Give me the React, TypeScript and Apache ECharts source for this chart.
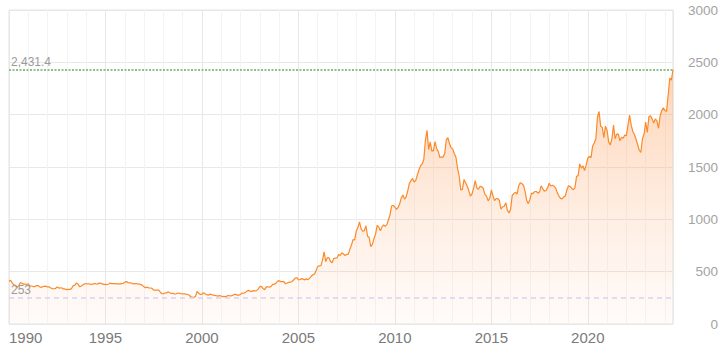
import React, { useEffect, useRef } from "react";
import * as echarts from "echarts";

// Monthly gold price (USD/oz)
const gold1990s = [
  410, 417, 393, 374, 369, 352, 362, 395, 389, 381, 382, 378,
  384, 364, 363, 358, 357, 367, 368, 356, 349, 358, 360, 361,
  354, 354, 344, 338, 337, 341, 353, 343, 345, 344, 335, 334,
  329, 330, 330, 342, 367, 372, 392, 379, 355, 364, 374, 383,
  387, 382, 384, 377, 381, 386, 385, 380, 391, 389, 384, 379,
  379, 377, 382, 391, 385, 387, 386, 383, 383, 383, 386, 387,
  400, 405, 396, 393, 392, 385, 383, 387, 383, 381, 378, 369,
  355, 347, 352, 344, 344, 341, 324, 324, 323, 325, 306, 289,
  289, 297, 296, 308, 299, 292, 293, 284, 289, 296, 294, 291,
  287, 287, 286, 282, 277, 261, 256, 253, 265, 311, 293, 283,
];
const gold2000s = [
  284, 300, 286, 280, 275, 286, 282, 275, 273, 270, 266, 272,
  266, 262, 263, 261, 272, 270, 268, 273, 283, 283, 276, 276,
  282, 296, 294, 302, 314, 321, 314, 310, 319, 317, 319, 333,
  357, 359, 340, 328, 355, 356, 351, 360, 379, 379, 389, 407,
  414, 405, 406, 404, 384, 392, 398, 400, 406, 420, 439, 442,
  424, 423, 434, 429, 422, 431, 424, 438, 456, 470, 476, 510,
  549, 555, 557, 610, 690, 596, 634, 632, 598, 586, 627, 629,
  631, 665, 655, 680, 668, 655, 665, 665, 713, 754, 806, 803,
  889, 923, 975, 909, 888, 890, 939, 839, 829, 740, 760, 816,
  858, 943, 925, 890, 928, 946, 934, 949, 996, 1044, 1128, 1134,
];
const gold2010s = [
  1118, 1095, 1114, 1148, 1205, 1233, 1193, 1215, 1271, 1343, 1370, 1391,
  1356, 1372, 1424, 1474, 1512, 1529, 1572, 1756, 1850, 1666, 1739, 1652,
  1656, 1743, 1675, 1649, 1591, 1596, 1594, 1630, 1760, 1780, 1722, 1684,
  1671, 1627, 1593, 1487, 1414, 1280, 1286, 1380, 1349, 1316, 1275, 1221,
  1244, 1300, 1370, 1299, 1287, 1315, 1311, 1296, 1239, 1222, 1176, 1201,
  1280, 1227, 1179, 1198, 1199, 1181, 1098, 1118, 1125, 1159, 1086, 1060,
  1097, 1230, 1246, 1260, 1240, 1320, 1350, 1341, 1326, 1267, 1180, 1150,
  1192, 1250, 1245, 1266, 1266, 1250, 1262, 1320, 1290, 1270, 1275, 1300,
  1345, 1318, 1325, 1315, 1300, 1255, 1225, 1200, 1195, 1215, 1222, 1280,
  1320, 1315, 1295, 1283, 1300, 1410, 1420, 1530, 1490, 1510, 1465, 1520,
];
const gold2020s = [
  1585, 1600, 1590, 1700, 1730, 1770, 1975, 2030, 1890, 1880, 1780, 1890,
  1850, 1740, 1710, 1770, 1900, 1770, 1815, 1815, 1750, 1785, 1775, 1805,
  1800, 1900, 1995, 1900, 1840, 1810, 1765, 1715, 1660, 1640, 1770, 1815,
  1930, 1830, 1980, 1990, 1960, 1920, 1960, 1940, 1870, 1990, 2040, 2065,
  2040, 2030, 2190, 2350, 2330, 2431.4,
];
const decadeStarts = [1990, 2000, 2010, 2020];
const decades = [gold1990s, gold2000s, gold2010s, gold2020s];

const maxLevel = 2431.4;
const minLevel = 253;

export default function App() {
  const ref = useRef<HTMLDivElement>(null);
  useEffect(() => {
    document.body.style.margin = "0";
    if (!ref.current) return;
    const chart = echarts.init(ref.current, null, { renderer: "svg" });
    const data: number[][] = [];
    decades.forEach((arr, d) => {
      arr.forEach((v, i) => data.push([decadeStarts[d] + i / 12, v]));
    });
    const xMax = data[data.length - 1][0];
    const font = "'Liberation Sans', Arial, sans-serif";
    chart.setOption({
      animation: false,
      textStyle: { fontFamily: font },
      grid: {
        left: 9,
        right: 55,
        top: 10,
        bottom: 26,
        show: true,
        borderColor: "#e2e2e2",
        borderWidth: 1,
      },
      xAxis: [
        {
          type: "value",
          position: "bottom",
          min: 1990,
          max: xMax,
          interval: 1,
          z: 0,
          axisLine: { show: false },
          axisTick: { show: false },
          axisLabel: { show: false },
          splitLine: { show: true, lineStyle: { color: "#f4f4f4", width: 1 } },
        },
        {
          type: "value",
          position: "bottom",
          offset: 0,
          min: 1990,
          max: xMax,
          interval: 5,
          z: 1,
          axisLine: { show: false },
          axisTick: { show: false },
          splitLine: { show: true, lineStyle: { color: "#e8e8e8", width: 1 } },
          axisLabel: {
            color: "#7a7a7a",
            fontSize: 15,
            margin: 6,
            alignMinLabel: "left",
            showMaxLabel: false,
            formatter: (v: number) => (Math.abs(v % 5) < 1e-6 ? String(v) : ""),
          },
        },
      ],
      yAxis: {
        type: "value",
        position: "right",
        min: 0,
        max: 3000,
        interval: 500,
        axisLine: { show: false },
        axisTick: { show: false },
        splitLine: { show: true, lineStyle: { color: "#e8e8e8", width: 1 } },
        axisLabel: {
          color: "#a3a3a3",
          fontSize: 13.5,
          align: "right",
          margin: 45,
          formatter: (v: number) => String(v),
        },
      },
      series: [
        {
          type: "line",
          xAxisIndex: 1,
          data,
          symbol: "none",
          lineStyle: { color: "#fb8a2a", width: 1.2 },
          areaStyle: {
            color: new echarts.graphic.LinearGradient(0, 0, 0, 1, [
              { offset: 0, color: "rgba(253,155,85,0.62)" },
              { offset: 1, color: "rgba(253,190,150,0.08)" },
            ]),
          },
          markLine: {
            silent: true,
            symbol: "none",
            data: [
              {
                yAxis: maxLevel,
                lineStyle: { color: "#8fbf8f", type: [2, 1.5], width: 2 },
              },
              {
                yAxis: minLevel,
                lineStyle: { color: "#dccff2", type: [5, 4], width: 1.5 },
              },
            ],
            label: {
              position: "insideStartTop",
              color: "#9a9a9a",
              fontSize: 12,
              distance: [2, 2],
              formatter: (p: any) => Number(p.value).toLocaleString("en-US"),
            },
          },
        },
      ],
    });
    return () => chart.dispose();
  }, []);
  return <div ref={ref} style={{ width: 728, height: 350 }} />;
}
